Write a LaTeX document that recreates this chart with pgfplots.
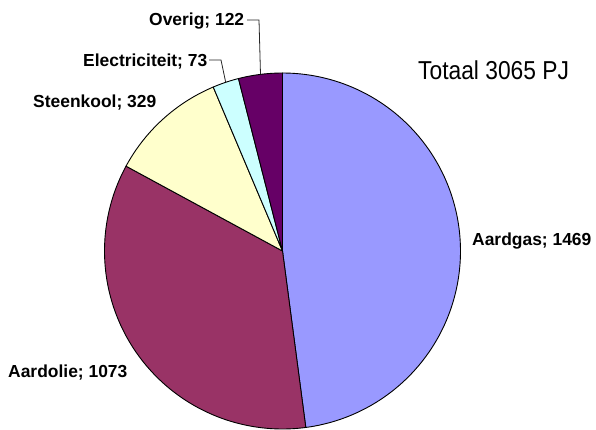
\documentclass[border=0pt]{standalone}
\usepackage{pgfplots}
\pgfplotsset{compat=1.18}
\usepackage{pgfplotstable}
\usepackage{fontspec}
\setmainfont{Liberation Sans}
\definecolor{cgas}{HTML}{9999FF}
\definecolor{colie}{HTML}{993366}
\definecolor{ckool}{HTML}{FFFFCC}
\definecolor{celec}{HTML}{CCFFFF}
\definecolor{cover}{HTML}{660066}
\pgfplotstableread{
name value
Aardgas 1469
Aardolie 1073
Steenkool 329
Electriciteit 73
Overig 122
}\piedata
\begin{document}
\begin{tikzpicture}
\pgfplotstablegetelem{0}{value}\of\piedata \let\vA\pgfplotsretval
\pgfplotstablegetelem{1}{value}\of\piedata \let\vB\pgfplotsretval
\pgfplotstablegetelem{2}{value}\of\piedata \let\vC\pgfplotsretval
\pgfplotstablegetelem{3}{value}\of\piedata \let\vD\pgfplotsretval
\pgfplotstablegetelem{4}{value}\of\piedata \let\vE\pgfplotsretval
\pgfmathsetmacro{\tot}{\vA+\vB+\vC+\vD+\vE}
\pgfmathsetmacro{\aA}{90}
\pgfmathsetmacro{\aB}{90-360*((\vA)/\tot)}
\pgfmathsetmacro{\aC}{90-360*((\vA+\vB)/\tot)}
\pgfmathsetmacro{\aD}{90-360*((\vA+\vB+\vC)/\tot)}
\pgfmathsetmacro{\aE}{90-360*((\vA+\vB+\vC+\vD)/\tot)}
\pgfmathsetmacro{\aF}{-270}
\def\cx{282.5}\def\cy{179}\def\r{178}
\begin{axis}[
  scale only axis, width=596bp, height=430bp,
  xmin=0, xmax=596, ymin=0, ymax=430,
  hide axis, clip=false,
]
\path (axis cs:0,0) rectangle (axis cs:596,430);
\addplot[fill=cgas, draw=black, line width=0.9pt, line join=round, domain=\aB:\aA, samples=120, variable=\t]
  ({\cx+\r*cos(\t)},{\cy+\r*sin(\t)}) -- (axis cs:\cx,\cy) -- cycle;
\addplot[fill=colie, draw=black, line width=0.9pt, line join=round, domain=\aC:\aB, samples=120, variable=\t]
  ({\cx+\r*cos(\t)},{\cy+\r*sin(\t)}) -- (axis cs:\cx,\cy) -- cycle;
\addplot[fill=ckool, draw=black, line width=0.9pt, line join=round, domain=\aD:\aC, samples=40, variable=\t]
  ({\cx+\r*cos(\t)},{\cy+\r*sin(\t)}) -- (axis cs:\cx,\cy) -- cycle;
\addplot[fill=celec, draw=black, line width=0.9pt, line join=round, domain=\aE:\aD, samples=20, variable=\t]
  ({\cx+\r*cos(\t)},{\cy+\r*sin(\t)}) -- (axis cs:\cx,\cy) -- cycle;
\addplot[fill=cover, draw=black, line width=0.9pt, line join=round, domain=\aF:\aE, samples=20, variable=\t]
  ({\cx+\r*cos(\t)},{\cy+\r*sin(\t)}) -- (axis cs:\cx,\cy) -- cycle;
% leader lines
\draw[black!85, line width=0.8pt] (axis cs:247,410) -- (axis cs:259,410) -- (axis cs:260.5,355.6);
\draw[black!85, line width=0.8pt] (axis cs:209,370) -- (axis cs:221,370) -- (axis cs:225.7,347.7);
% labels
\tikzset{lab/.style={anchor=base west, inner sep=0pt, font=\fontsize{17.5}{20}\selectfont\bfseries}}
\node[lab] at (axis cs:472,185) {Aardgas; 1469};
\node[lab] at (axis cs:8,53) {Aardolie; 1073};
\node[lab] at (axis cs:33,323) {Steenkool; 329};
\node[lab] at (axis cs:83,364) {Electriciteit; 73};
\node[lab] at (axis cs:149,404) {Overig; 122};
\node[anchor=base west, inner sep=0pt, font=\fontsize{26}{30}\selectfont] at (axis cs:418,351) {\scalebox{0.88}[1]{Totaal 3065 PJ}};
\end{axis}
\end{tikzpicture}
\end{document}
